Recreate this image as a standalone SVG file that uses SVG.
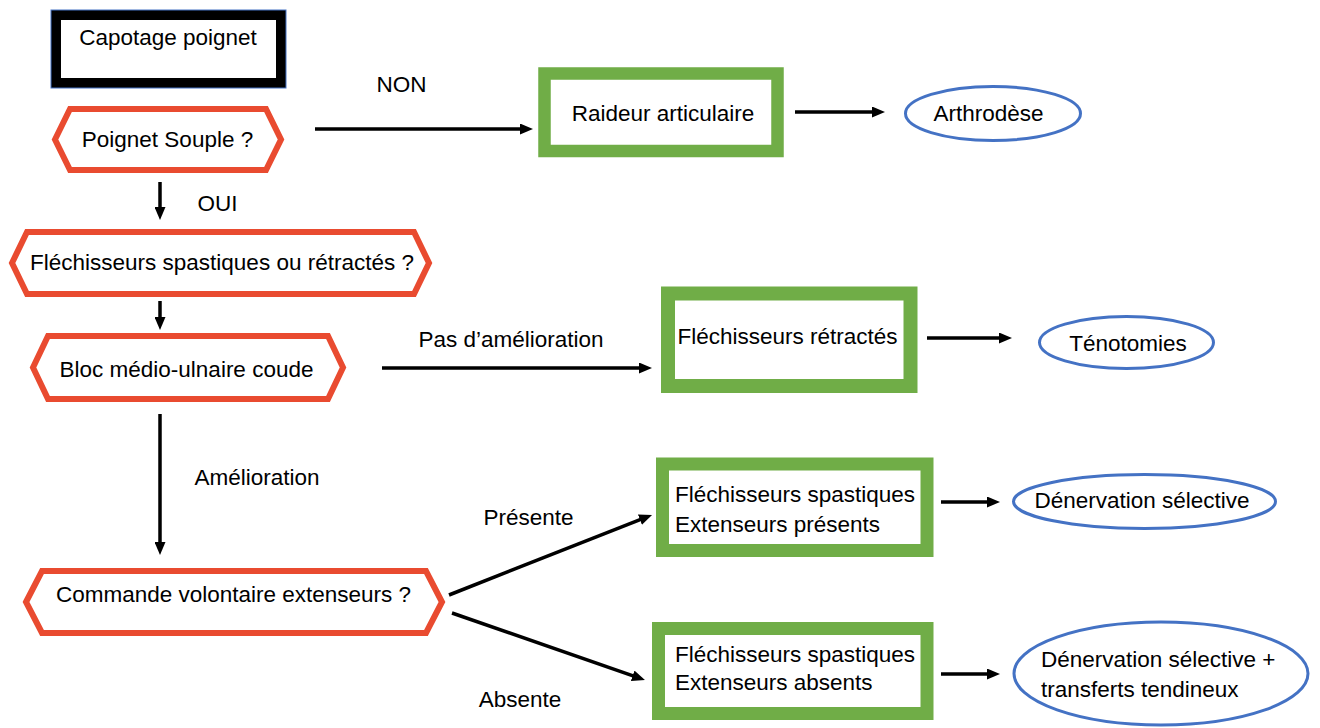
<svg xmlns="http://www.w3.org/2000/svg" width="1320" height="728" viewBox="0 0 1320 728">
<defs>
<style>
text{font-family:"Liberation Sans",Arial,sans-serif;font-size:22.5px;fill:#000}
.mid{text-anchor:middle}
.hex{fill:#fff;stroke:#E94B30;stroke-width:6}
.grn{fill:#fff;stroke:#70AD47}
.ell{fill:#fff;stroke:#4472C4;stroke-width:3}
.con{stroke:#000;stroke-width:3.5;fill:none;marker-end:url(#ah)}
</style>
<marker id="ah" viewBox="0 0 13 11" refX="5" refY="5.5" markerWidth="13" markerHeight="11" markerUnits="userSpaceOnUse" orient="auto">
<path d="M0,0 L13,5.5 L0,11 z" fill="#000"/>
</marker>
</defs>
<rect width="1320" height="728" fill="#fff"/>

<g id="connectors">
<line class="con" x1="160" y1="182" x2="160" y2="212"/>
<line class="con" x1="160" y1="301" x2="160" y2="322"/>
<line class="con" x1="160" y1="414" x2="160" y2="547"/>
<line class="con" x1="315" y1="129" x2="525" y2="129"/>
<line class="con" x1="795" y1="112" x2="877" y2="112"/>
<line class="con" x1="382" y1="368" x2="644" y2="368"/>
<line class="con" x1="927" y1="338" x2="1004" y2="338"/>
<line class="con" x1="449" y1="595" x2="644.6" y2="517.9"/>
<line class="con" x1="452" y1="613" x2="637.4" y2="677.4"/>
<line class="con" x1="941" y1="502" x2="992" y2="502"/>
<line class="con" x1="941" y1="674" x2="992" y2="674"/>
<text class="mid" x="401.5" y="92">NON</text>
<text class="mid" x="217.5" y="211">OUI</text>
<text class="mid" x="511" y="347">Pas d’amélioration</text>
<text class="mid" x="257" y="485">Amélioration</text>
<text class="mid" x="528.5" y="525">Présente</text>
<text class="mid" x="520" y="707">Absente</text>
</g>

<g id="capotage">
<rect x="56" y="15" width="225" height="68" fill="#fff" stroke="#000" stroke-width="10"/>
<rect x="51" y="10" width="235" height="78" fill="none" stroke="#4472C4" stroke-width="1"/>
<text class="mid" x="168" y="45">Capotage poignet</text>
</g>

<g id="poignet-souple">
<polygon class="hex" points="55,139.5 70,109 266,109 281,139.5 266,170 70,170"/>
<text class="mid" x="167.5" y="147">Poignet Souple ?</text>
</g>

<g id="flechisseurs-question">
<polygon class="hex" points="12,263 27,232 414,232 429,263 414,294 27,294"/>
<text class="mid" x="222" y="270">Fléchisseurs spastiques ou rétractés ?</text>
</g>

<g id="bloc">
<polygon class="hex" points="33,367.5 48,336 328,336 343,367.5 328,399 48,399"/>
<text class="mid" x="186.5" y="377">Bloc médio-ulnaire coude</text>
</g>

<g id="commande">
<polygon class="hex" points="26,602 42,571 426,571 442,602 426,633 42,633"/>
<text class="mid" x="233.5" y="602">Commande volontaire extenseurs ?</text>
</g>

<g id="raideur">
<rect class="grn" x="544.5" y="73.5" width="233" height="77.5" stroke-width="12.5"/>
<text class="mid" x="663" y="121">Raideur articulaire</text>
</g>

<g id="arthrodese">
<ellipse class="ell" cx="993" cy="113.5" rx="87.5" ry="27"/>
<text class="mid" x="988.5" y="121">Arthrodèse</text>
</g>

<g id="flechisseurs-retractes">
<rect class="grn" x="668" y="293.5" width="242.5" height="92.5" stroke-width="14"/>
<text class="mid" x="787.5" y="344">Fléchisseurs rétractés</text>
</g>

<g id="tenotomies">
<ellipse class="ell" cx="1126.5" cy="342.5" rx="87" ry="26"/>
<text class="mid" x="1128" y="351">Ténotomies</text>
</g>

<g id="extenseurs-presents">
<rect class="grn" x="662.5" y="464" width="264.5" height="86.5" stroke-width="13"/>
<text x="675" y="502">Fléchisseurs spastiques</text>
<text x="675" y="532">Extenseurs présents</text>
</g>

<g id="denervation">
<ellipse class="ell" cx="1144.5" cy="501.5" rx="131" ry="27"/>
<text class="mid" x="1142" y="508">Dénervation sélective</text>
</g>

<g id="extenseurs-absents">
<rect class="grn" x="658.5" y="628.5" width="268.5" height="85" stroke-width="13"/>
<text x="675" y="662">Fléchisseurs spastiques</text>
<text x="675" y="690">Extenseurs absents</text>
</g>

<g id="denervation-transferts">
<ellipse class="ell" cx="1161" cy="673.5" rx="147" ry="51.5" stroke-width="4.5"/>
<text x="1041" y="667">Dénervation sélective +</text>
<text x="1041" y="697">transferts tendineux</text>
</g>
</svg>
